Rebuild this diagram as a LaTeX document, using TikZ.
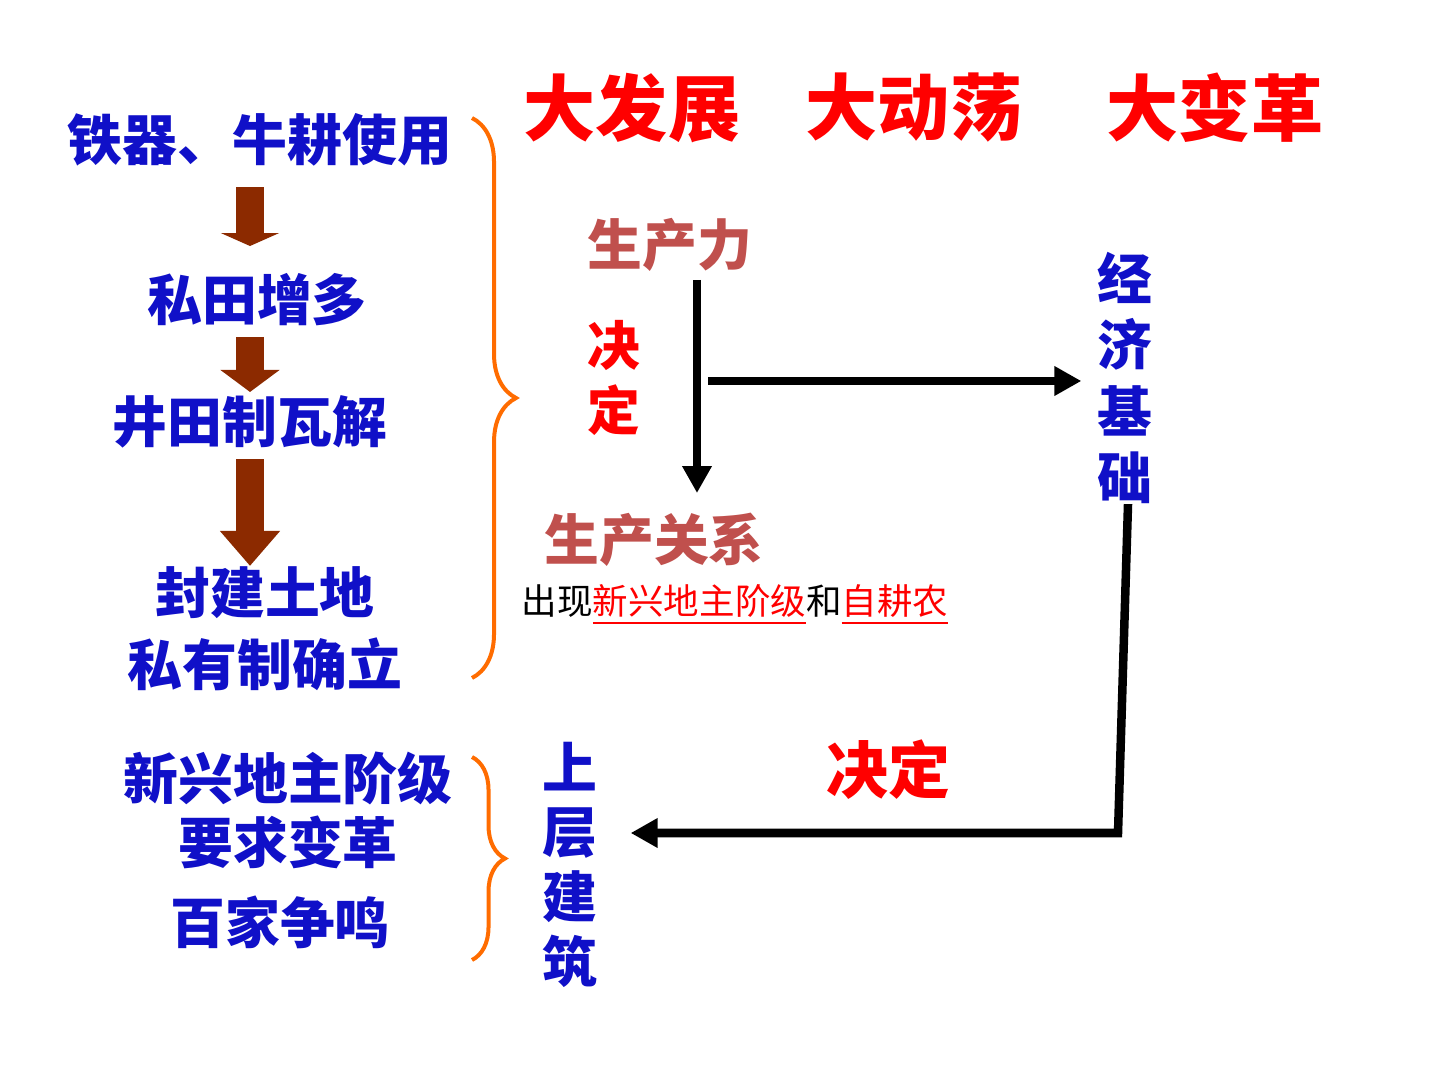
\documentclass[tikz,border=0pt]{standalone}
\usepackage{fontspec}
\usepackage{xcolor}
\setmainfont{Noto Sans CJK SC}
\usetikzlibrary{
    arrows.meta,
    decorations.pathreplacing,
    calc,
    positioning
}
\definecolor{lanse}{RGB}{16,16,200}
\definecolor{hongse}{RGB}{255,0,0}
\definecolor{zhuanhong}{RGB}{192,80,77}
\definecolor{juse}{RGB}{255,108,0}
\definecolor{zongse}{RGB}{140,42,0}
\tikzset{
    every node/.style={inner sep=0pt},
    biaoti/.style={text=hongse, font=\fontsize{20.5}{24}\selectfont\bfseries},
    lan/.style={text=lanse, font=\fontsize{15.6}{18}\selectfont\bfseries, align=center},
    shu/.style={font=\fontsize{15.6}{18.8}\selectfont\bfseries, align=center},
    kuai/.style={draw=zongse, line width=0.28cm, -{Triangle[width=0.58cm,length=#1]}},
    heijian/.style={draw=black, line width=0.085cm, line join=miter, -{Triangle[width=0.28cm,length=0.27cm]}},
    kuohao/.style={draw=juse, line width=0.04cm, decorate, decoration={brace, amplitude=#1}}
}
\begin{document}
\begin{tikzpicture}[x=0.01cm, y=-0.01cm]
    \useasboundingbox (0,0) rectangle (1440,1080);

    % titles
    \node[biaoti] (dfz) at (632,108) {大发展};
    \node[biaoti] (ddd) at (914,108) {大动荡};
    \node[biaoti] (dbg) at (1215,108) {大变革};

    % left column
    \node[lan] (tq) at (260,140) {铁器、牛耕使用};
    \node[lan] (st) at (257,300) {私田增多};
    \node[lan] (jt) at (250,422) {井田制瓦解};
    \node[lan, font=\fontsize{15.6}{18}\selectfont\bfseries] (fj) at (265,628.5)
        {\shortstack{封建土地\\[0.08cm]私有制确立}};
    \coordinate (zhou) at (250,0);
    \draw[kuai=0.13cm, shorten <=0.2cm, shorten >=0.27cm] (tq.south -| zhou) -- (st.north -| zhou);
    \draw[kuai=0.22cm, shorten <=0.1cm, shorten >=0.03cm] (st.south -| zhou) -- (jt.north -| zhou);
    \draw[kuai=0.35cm, shorten <=0.1cm] (jt.south -| zhou) -- (fj.north -| zhou);

    \coordinate (k1a) at (472,118);
    \coordinate (k1b) at (472,678);
    \draw[kuohao=0.44cm] (k1a) -- (k1b);

    % middle
    \node[text=zhuanhong, font=\fontsize{15.6}{18}\selectfont\bfseries] (scl) at (670,245) {生产力};
    \node[shu, text=hongse, font=\fontsize{15}{18.5}\selectfont\bfseries] (jd1) at (614,377.5) {决\\定};
    \node[text=zhuanhong, font=\fontsize{15.6}{18}\selectfont\bfseries] (scgx) at (654,540) {生产关系};
    \node[font=\fontsize{10.1}{12}\selectfont] (cx) at (735,605)
        {出现\textcolor{hongse}{\underline{新兴地主阶级}}和\textcolor{hongse}{\underline{自耕农}}};
    \node[shu, text=lanse] (jjjc) at (1125,378) {经\\济\\基\\础};

    \coordinate (sx) at (697,0);
    \draw[heijian, shorten <=0.075cm, shorten >=0.195cm] (scl.south -| sx) -- (scgx.north -| sx);
    \coordinate (hq) at (708,381);
    \draw[heijian, shorten >=0.155cm] (hq) -- (hq -| jjjc.west);

    % bottom
    \node[lan] (xx) at (288,778) {新兴地主阶级};
    \node[lan] (yq) at (288,842) {要求变革};
    \node[lan] (bj) at (280,922) {百家争鸣};
    \coordinate (k2a) at (472,757);
    \coordinate (k2b) at (472,960);
    \draw[kuohao=0.33cm] (k2a) -- (k2b);

    \node[shu, text=lanse, font=\fontsize{15.6}{18.4}\selectfont\bfseries] (sc) at (570,864.5) {上\\层\\建\\筑};
    \node[text=hongse, font=\fontsize{17.6}{20}\selectfont\bfseries] (jd2) at (888,770) {决定};
    \coordinate (gj) at (1118,833);
    \draw[heijian, shorten >=0.325cm] ([xshift=0.03cm]jjjc.south) -- (gj) -- (gj -| sc.east);
\end{tikzpicture}
\end{document}
